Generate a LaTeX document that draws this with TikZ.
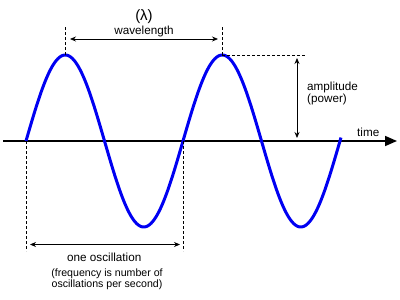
\documentclass[tikz,border=0pt]{standalone}
\usepackage{fontspec}
\setmainfont{Liberation Sans}
\usetikzlibrary{arrows.meta}
\begin{document}
\begin{tikzpicture}[x=1pt,y=-1pt,
  wave/.style={line width=3pt,color=blue!95!black},
  axisline/.style={line width=1.6pt,-{Triangle[length=12pt,width=10pt]}},
  guide/.style={line width=0.6pt,dash pattern=on 3pt off 2pt},
  dim/.style={line width=0.8pt,{Stealth[length=6pt,width=5pt]}-{Stealth[length=6pt,width=5pt]}},
  lbl/.style={font=\fontsize{11.7}{14}\selectfont,inner sep=0pt},
  small/.style={font=\fontsize{10.6}{11}\selectfont,inner sep=0pt}]
\useasboundingbox (0,0) rectangle (400,300);
% key points
\coordinate (z0) at (26,141);
\coordinate (p1) at (65.25,55);
\coordinate (z2) at (183,141);
\coordinate (p2) at (222.25,55);
\coordinate (p1top) at (65.25,26);
\coordinate (p2top) at (222.25,26);
\coordinate (wl) at (70,39);
\coordinate (wr) at (218,39);
\coordinate (ampend) at (307,55);
\coordinate (atop) at (297,58);
\coordinate (abot) at (297,138);
\coordinate (z0bot) at (26,251);
\coordinate (z2bot) at (183,251);
\coordinate (ol) at (30,244.5);
\coordinate (orr) at (180,244.5);
\coordinate (axs) at (3,141);
\coordinate (axe) at (397,141);
% axis
\draw[axisline] (axs) -- (axe);
% wave
\draw[wave] plot[domain=26:341, samples=240, smooth] (\x, {141-86*sin(2.2930*(\x-26))});
% guides
\draw[guide] (p1) -- (p1top);
\draw[guide] (p2) -- (p2top);
\draw[guide] (p2) -- (ampend);
\draw[guide] (z0) -- (z0bot);
\draw[guide] (z2) -- (z2bot);
% dimension arrows
\draw[dim] (wl) -- (wr);
\draw[dim] (atop) -- (abot);
\draw[dim] (ol) -- (orr);
% labels
\node[lbl,anchor=base,font=\fontsize{15}{18}\selectfont] (lam) at (144,20.5) {(λ)};
\node[lbl,anchor=base] (wavelen) at (144,34.5) {wavelength};
\node[lbl,anchor=base west] (amp) at (307,90) {amplitude};
\node[lbl,anchor=base west] (pow) at (307,102) {(power)};
\node[lbl,anchor=base west] (time) at (357,136) {time};
\node[lbl,anchor=base] (osc) at (104.3,261.7) {one oscillation};
\node[small,anchor=base] (freqa) at (107,276.7) {(frequency is number of};
\node[small,anchor=base] (freqb) at (107,287.7) {oscillations per second)};
\end{tikzpicture}
\end{document}
